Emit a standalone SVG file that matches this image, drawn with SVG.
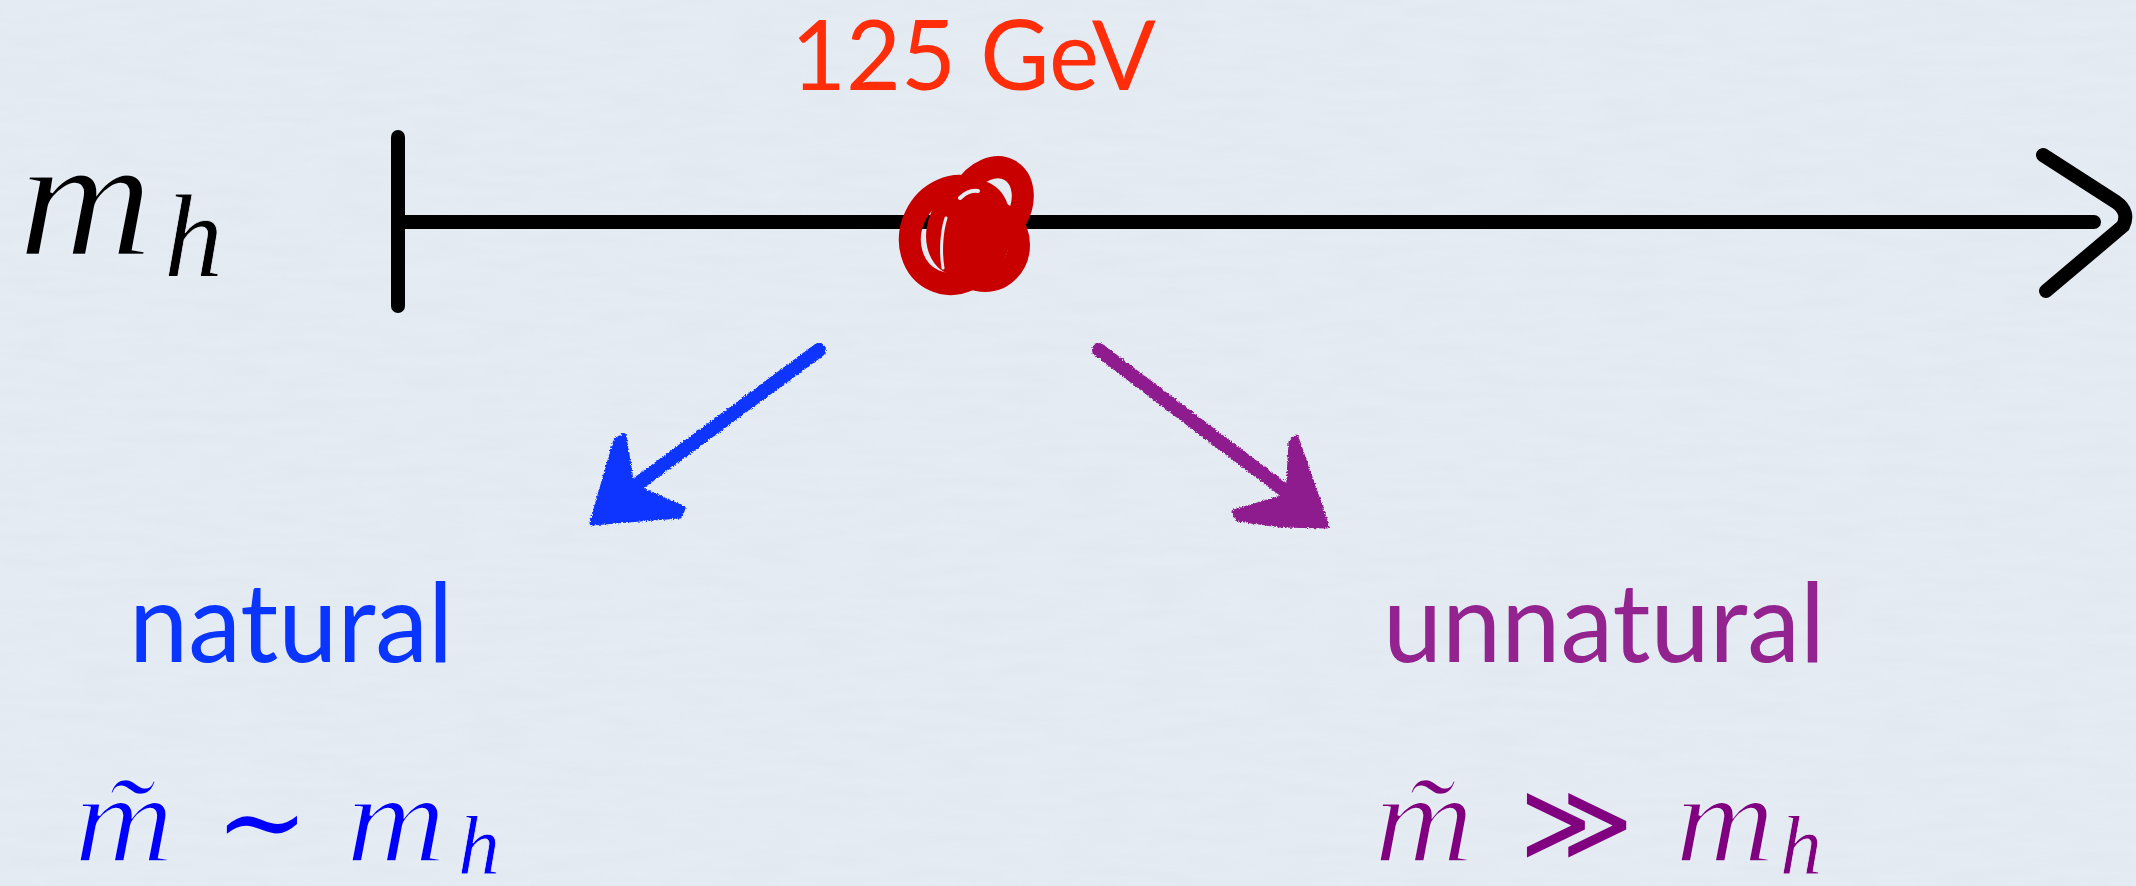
<svg xmlns="http://www.w3.org/2000/svg" width="2136" height="886" viewBox="0 0 2136 886">
<defs>
<style>
.sans{font-family:Lato,"Open Sans","Liberation Sans",sans-serif;}
.math{font-family:"Liberation Serif","DejaVu Serif",serif;font-style:italic;font-weight:normal;stroke:#e5ecf3;stroke-width:2.5;paint-order:normal;}
.sub{stroke-width:0.8;}
.op{font-family:"DejaVu Serif","Liberation Serif",serif;}
.axis{stroke:#000;stroke-width:14;stroke-linecap:round;stroke-linejoin:round;fill:none;}
.crayon{stroke-linecap:round;stroke-linejoin:round;}
.scrib{fill:none;stroke:#c80000;stroke-width:22;stroke-linecap:round;}
</style>
<filter id="paper" x="0" y="0" width="100%" height="100%">
<feTurbulence type="fractalNoise" baseFrequency="0.015 0.09" numOctaves="3" seed="4" result="n"/>
<feColorMatrix in="n" type="matrix" values="0 0 0 0 0.55  0 0 0 0 0.6  0 0 0 0 0.65  0 0 0 0.35 -0.05"/>
</filter>
<filter id="rough" x="-10%" y="-10%" width="120%" height="120%">
<feTurbulence type="fractalNoise" baseFrequency="0.6" numOctaves="2" seed="2" result="t"/>
<feDisplacementMap in="SourceGraphic" in2="t" scale="4" xChannelSelector="R" yChannelSelector="G"/>
</filter>
</defs>
<rect width="2136" height="886" fill="#e5ecf3"/>
<rect width="2136" height="886" filter="url(#paper)" opacity="0.35"/>

<g id="connectors">
  <g id="axis">
    <line class="axis" x1="398" y1="137" x2="398" y2="306"/>
    <line class="axis" x1="398" y1="222" x2="2094" y2="222" stroke-width="15"/>
    <path class="axis" d="M2043,155 L2116,202 Q2130,212 2123,226 L2046,291"/>
  </g>
  <g id="arrow-natural" filter="url(#rough)">
    <line class="crayon" x1="819" y1="350" x2="628" y2="491" stroke="#0a35ff" stroke-width="14"/>
    <path d="M592,523 L616,440 L624,436 L632,486 L683,508 L680,516 L640,519 Z" fill="#0a35ff" stroke="#0a35ff" stroke-width="5" stroke-linejoin="round"/>
  </g>
  <g id="arrow-unnatural" filter="url(#rough)">
    <line class="crayon" x1="1099" y1="350" x2="1288" y2="493" stroke="#8e1f8f" stroke-width="14"/>
    <path d="M1327,526 L1296,437 L1291,442 L1288,496 L1234,512 L1238,519 L1280,525 Z" fill="#8e1f8f" stroke="#8e1f8f" stroke-width="5" stroke-linejoin="round"/>
  </g>
</g>

<g id="label-mh">
  <text class="math" x="18" y="255" font-size="172" fill="#000" textLength="135" lengthAdjust="spacingAndGlyphs">m</text>
  <text class="math sub" x="164" y="276" font-size="118" fill="#000">h</text>
</g>

<g id="label-125">
  <text class="sans" x="791" y="90" font-size="96" fill="#ff2d0a" textLength="365" lengthAdjust="spacingAndGlyphs">125 GeV</text>
</g>

<g id="marker-125">
  <ellipse cx="968" cy="228" rx="40" ry="50" fill="#c80000" transform="rotate(25 968 228)"/>
  <ellipse class="scrib" cx="955" cy="235" rx="44" ry="50" transform="rotate(25 955 235)"/>
  <ellipse class="scrib" cx="990" cy="205" rx="30" ry="40" transform="rotate(30 990 205)"/>
  <ellipse class="scrib" cx="985" cy="245" rx="34" ry="36"/>
  <path d="M943,268 C940,250 942,230 946,218" fill="none" stroke="#e5ecf3" stroke-width="3" stroke-linecap="round"/>
  <path d="M960,198 C966,192 972,190 978,191" fill="none" stroke="#e5ecf3" stroke-width="4" stroke-linecap="round"/>
</g>

<g id="node-natural">
  <text class="sans" x="129" y="662" font-size="110" fill="#0a35ff" textLength="324" lengthAdjust="spacingAndGlyphs">natural</text>
  <text class="math" x="74" y="862" font-size="128" fill="#0000ff" textLength="100" lengthAdjust="spacingAndGlyphs">m̃</text>
  <text class="op" x="262" y="860" font-size="112" fill="#0000ff" text-anchor="middle">∼</text>
  <text class="math" x="346" y="862" font-size="128" fill="#0000ff" textLength="100" lengthAdjust="spacingAndGlyphs">m</text>
  <text class="math sub" x="458" y="874" font-size="84" fill="#0000ff">h</text>
</g>

<g id="node-unnatural">
  <text class="sans" x="1383" y="662" font-size="110" fill="#93238f" textLength="442" lengthAdjust="spacingAndGlyphs">unnatural</text>
  <text class="math" x="1374" y="862" font-size="128" fill="#800080" textLength="100" lengthAdjust="spacingAndGlyphs">m̃</text>
  <text class="op" x="1576" y="860" font-size="110" fill="#800080" text-anchor="middle">≫</text>
  <text class="math" x="1675" y="862" font-size="128" fill="#800080" textLength="100" lengthAdjust="spacingAndGlyphs">m</text>
  <text class="math sub" x="1780" y="874" font-size="84" fill="#800080">h</text>
</g>
</svg>
